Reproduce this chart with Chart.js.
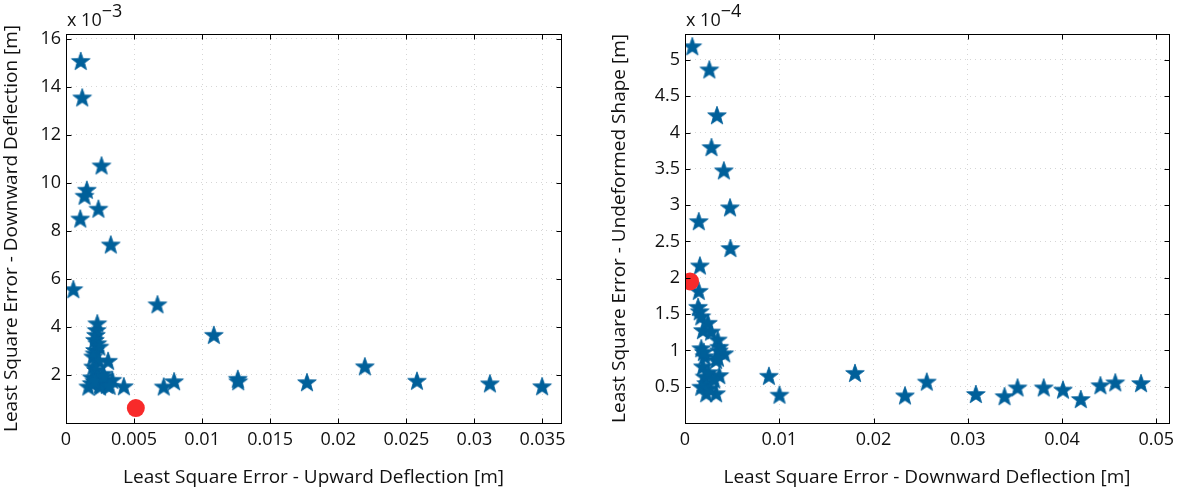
<!DOCTYPE html>
<html>
<head>
<meta charset="utf-8">
<script src="https://cdn.jsdelivr.net/npm/chart.js@4.4.1/dist/chart.umd.min.js"></script>
<style>
  html, body { margin: 0; padding: 0; background: #fff; }
  #wrap { position: relative; width: 1180px; height: 489px; overflow: hidden; }
  canvas { position: absolute; top: 0; }
  #c1 { left: 0; }
  #c2 { left: 590px; }
</style>
</head>
<body>
<div id="wrap">
  <canvas id="c1" width="590" height="489"></canvas>
  <canvas id="c2" width="590" height="489"></canvas>
</div>
<script>
// left plot: upward deflection error [m] vs downward deflection error [x 10^-3 m]
const leftUpX = [0.00108, 0.00119, 0.00261, 0.00153, 0.00136, 0.00238, 0.00105, 0.00329, 0.00054,
  0.00672, 0.01086, 0.02195, 0.01262, 0.01265, 0.0177, 0.02578, 0.03114, 0.03497, 0.00794, 0.00718,
  0.00425, 0.00309,
  0.0023, 0.00225, 0.0022, 0.00213, 0.0023, 0.00245, 0.00213, 0.0021, 0.002, 0.0024, 0.002, 0.0022,
  0.0027, 0.0019, 0.0023, 0.0034, 0.0029, 0.00189, 0.0025, 0.003, 0.0025, 0.00164, 0.0021, 0.0028, 0.0032];
const leftDownY = [15.07, 13.55, 10.72, 9.71, 9.46, 8.92, 8.51, 7.43, 5.57,
  4.94, 3.67, 2.36, 1.84, 1.74, 1.70, 1.76, 1.65, 1.53, 1.74, 1.52,
  1.53, 2.59,
  4.15, 3.87, 3.67, 3.46, 3.32, 3.18, 3.04, 2.90, 2.77, 2.60, 2.35, 2.21,
  2.05, 1.90, 1.87, 1.80, 1.72, 1.66, 1.62, 1.59, 1.52, 1.52, 1.75, 1.95, 1.55];
const leftBestX = [0.00513];
const leftBestY = [0.62];

// right plot: downward deflection error [m] vs undeformed shape error [x 10^-4 m]
const rightDownX = [0.00077, 0.00258, 0.00339, 0.00281, 0.00412, 0.00478, 0.00146, 0.00482, 0.00158,
  0.00146, 0.0089, 0.01002, 0.01803, 0.02334, 0.02565, 0.03086, 0.0339, 0.03528, 0.03806, 0.0401,
  0.04199, 0.04407, 0.04565, 0.04838,
  0.00139, 0.00156, 0.00173, 0.00243, 0.0019, 0.00277, 0.00347, 0.00364, 0.00173, 0.00416, 0.00208,
  0.0033, 0.0019, 0.00364, 0.00208, 0.00225, 0.00173, 0.0033, 0.00225, 0.0026, 0.0036, 0.0025, 0.0031,
  0.002, 0.0035];
const rightShapeY = [5.19, 4.87, 4.24, 3.80, 3.48, 2.97, 2.78, 2.41, 2.17,
  1.82, 0.65, 0.39, 0.69, 0.38, 0.57, 0.40, 0.37, 0.49, 0.49, 0.46,
  0.33, 0.52, 0.56, 0.55,
  1.60, 1.54, 1.47, 1.38, 1.28, 1.26, 1.15, 1.05, 1.03, 0.96, 0.92,
  0.87, 0.78, 0.66, 0.64, 0.55, 0.50, 0.41, 0.41, 0.48, 1.00, 0.70, 0.60,
  0.98, 0.90];
const rightBestX = [0.00054];
const rightBestY = [1.95];

// ticks
const leftXTicks = [0, 0.005, 0.01, 0.015, 0.02, 0.025, 0.03, 0.035];
const leftXLabels = ['0', '0.005', '0.01', '0.015', '0.02', '0.025', '0.03', '0.035'];
const leftYTicks = [2, 4, 6, 8, 10, 12, 14, 16];
const leftYLabels = ['2', '4', '6', '8', '10', '12', '14', '16'];
const rightXTicks = [0, 0.01, 0.02, 0.03, 0.04, 0.05];
const rightXLabels = ['0', '0.01', '0.02', '0.03', '0.04', '0.05'];
const rightYTicks = [0.5, 1, 1.5, 2, 2.5, 3, 3.5, 4, 4.5, 5];
const rightYLabels = ['0.5', '1', '1.5', '2', '2.5', '3', '3.5', '4', '4.5', '5'];

const FONT = "'Open Sans', 'DejaVu Sans', sans-serif";
const TEXT = '#111';
const STAR = '#00609a';
const BEST = '#f82a2a';
const GRID = 'rgba(0,0,0,0.16)';

function toPoints(xs, ys) {
    return xs.map((x, i) => ({ x: x, y: ys[i] }));
}

// filled five point star (matlab pentagram)
function makeStar(R, color) {
    const s = Math.ceil(R * 2 + 2);
    const c = document.createElement('canvas');
    c.width = s; c.height = s;
    const g = c.getContext('2d');
    const cx = s / 2, cy = s / 2 + R * 0.09;
    const r = R * 0.41;
    g.beginPath();
    for (let k = 0; k < 10; k++) {
        const a = -Math.PI / 2 + k * Math.PI / 5;
        const rr = k % 2 === 0 ? R : r;
        g.lineTo(cx + rr * Math.cos(a), cy + rr * Math.sin(a));
    }
    g.closePath();
    g.fillStyle = color;
    g.fill();
    g.strokeStyle = color;
    g.lineWidth = 0.8;
    g.stroke();
    return c;
}
const starImg = makeStar(9.8, STAR);

// box, inward ticks and the exponent label above the axes
const boxPlugin = {
    id: 'mbox',
    afterDraw(chart, args, opts) {
        const ctx = chart.ctx;
        const a = chart.chartArea;
        const xs = chart.scales.x, ys = chart.scales.y;
        const L = Math.round(a.left) + 0.5, R = Math.round(a.right) + 0.5;
        const T = Math.round(a.top) + 0.5, B = Math.round(a.bottom) + 0.5;
        ctx.save();
        ctx.strokeStyle = '#000';
        ctx.lineWidth = 1;
        ctx.setLineDash([]);
        ctx.beginPath();
        opts.xTicks.forEach(v => {
            const px = Math.round(xs.getPixelForValue(v)) + 0.5;
            ctx.moveTo(px, B); ctx.lineTo(px, B - 5);
            ctx.moveTo(px, T); ctx.lineTo(px, T + 5);
        });
        opts.yTicks.forEach(v => {
            const py = Math.round(ys.getPixelForValue(v)) + 0.5;
            ctx.moveTo(L, py); ctx.lineTo(L + 5, py);
            ctx.moveTo(R, py); ctx.lineTo(R - 5, py);
        });
        ctx.stroke();
        ctx.strokeRect(L, T, R - L, B - T);

        ctx.fillStyle = TEXT;
        ctx.font = '18px ' + FONT;
        ctx.textBaseline = 'alphabetic';
        ctx.textAlign = 'left';
        ctx.fillText('x 10', a.left + 1, 26);
        const w = ctx.measureText('x 10').width;
        ctx.fillText(opts.exp, a.left + 1 + w, 17);
        ctx.restore();
    }
};

function makeChart(id, cfg) {
    const ctx = document.getElementById(id).getContext('2d');
    return new Chart(ctx, {
        type: 'scatter',
        data: {
            datasets: [{
                data: toPoints(cfg.bestX, cfg.bestY),
                pointStyle: 'circle',
                pointRadius: 9,
                backgroundColor: BEST,
                borderColor: BEST,
                borderWidth: 0
            }, {
                data: toPoints(cfg.x, cfg.y),
                pointStyle: starImg,
                pointRadius: 10
            }]
        },
        plugins: [boxPlugin],
        options: {
            responsive: false,
            animation: false,
            events: [],
            layout: { padding: cfg.padding },
            plugins: {
                legend: { display: false },
                tooltip: { enabled: false },
                mbox: { xTicks: cfg.xTicks, yTicks: cfg.yTicks, exp: cfg.exp }
            },
            scales: {
                x: {
                    type: 'linear',
                    min: 0,
                    max: cfg.xMax,
                    afterBuildTicks: s => { s.ticks = cfg.xTicks.map(v => ({ value: v })); },
                    afterFit: s => { s.height = 66; s.paddingLeft = 0; s.paddingRight = 0; },
                    grid: { color: GRID, lineWidth: 1, drawTicks: false },
                    border: { display: false, dash: [1, 4] },
                    ticks: {
                        padding: 6,
                        color: TEXT,
                        font: { family: FONT, size: 18 },
                        maxRotation: 0,
                        autoSkip: false,
                        callback: (v, i) => cfg.xLabels[i]
                    },
                    title: {
                        display: true,
                        text: cfg.xTitle,
                        color: TEXT,
                        font: { family: FONT, size: 19 },
                        padding: 0
                    }
                },
                y: {
                    type: 'linear',
                    min: 0,
                    max: cfg.yMax,
                    afterBuildTicks: s => { s.ticks = cfg.yTicks.map(v => ({ value: v })); },
                    afterFit: s => { s.width = cfg.yWidth; s.paddingTop = 0; s.paddingBottom = 0; },
                    grid: { color: GRID, lineWidth: 1, drawTicks: false },
                    border: { display: false, dash: [1, 4] },
                    ticks: {
                        padding: 5,
                        color: TEXT,
                        font: { family: FONT, size: 18 },
                        autoSkip: false,
                        callback: (v, i) => cfg.yLabels[i]
                    },
                    title: {
                        display: true,
                        text: cfg.yTitle,
                        color: TEXT,
                        font: { family: FONT, size: 19 },
                        padding: { top: cfg.yTitlePad, bottom: 0 }
                    }
                }
            }
        }
    });
}

makeChart('c1', {
    x: leftUpX, y: leftDownY, bestX: leftBestX, bestY: leftBestY,
    xMax: 0.03636, yMax: 16.19,
    xTicks: leftXTicks, xLabels: leftXLabels, yTicks: leftYTicks, yLabels: leftYLabels,
    exp: '\u22123',
    xTitle: 'Least Square Error - Upward Deflection [m]',
    yTitle: 'Least Square Error - Downward Deflection [m]',
    padding: { left: 0, right: 29, top: 34, bottom: 0 },
    yWidth: 66, yTitlePad: 0
});

makeChart('c2', {
    x: rightDownX, y: rightShapeY, bestX: rightBestX, bestY: rightBestY,
    xMax: 0.05135, yMax: 5.358,
    xTicks: rightXTicks, xLabels: rightXLabels, yTicks: rightYTicks, yLabels: rightYLabels,
    exp: '\u22124',
    xTitle: 'Least Square Error - Downward Deflection [m]',
    yTitle: 'Least Square Error - Undeformed Shape [m]',
    padding: { left: 0, right: 1, top: 34, bottom: 0 },
    yWidth: 95, yTitlePad: 18
});
</script>
</body>
</html>
